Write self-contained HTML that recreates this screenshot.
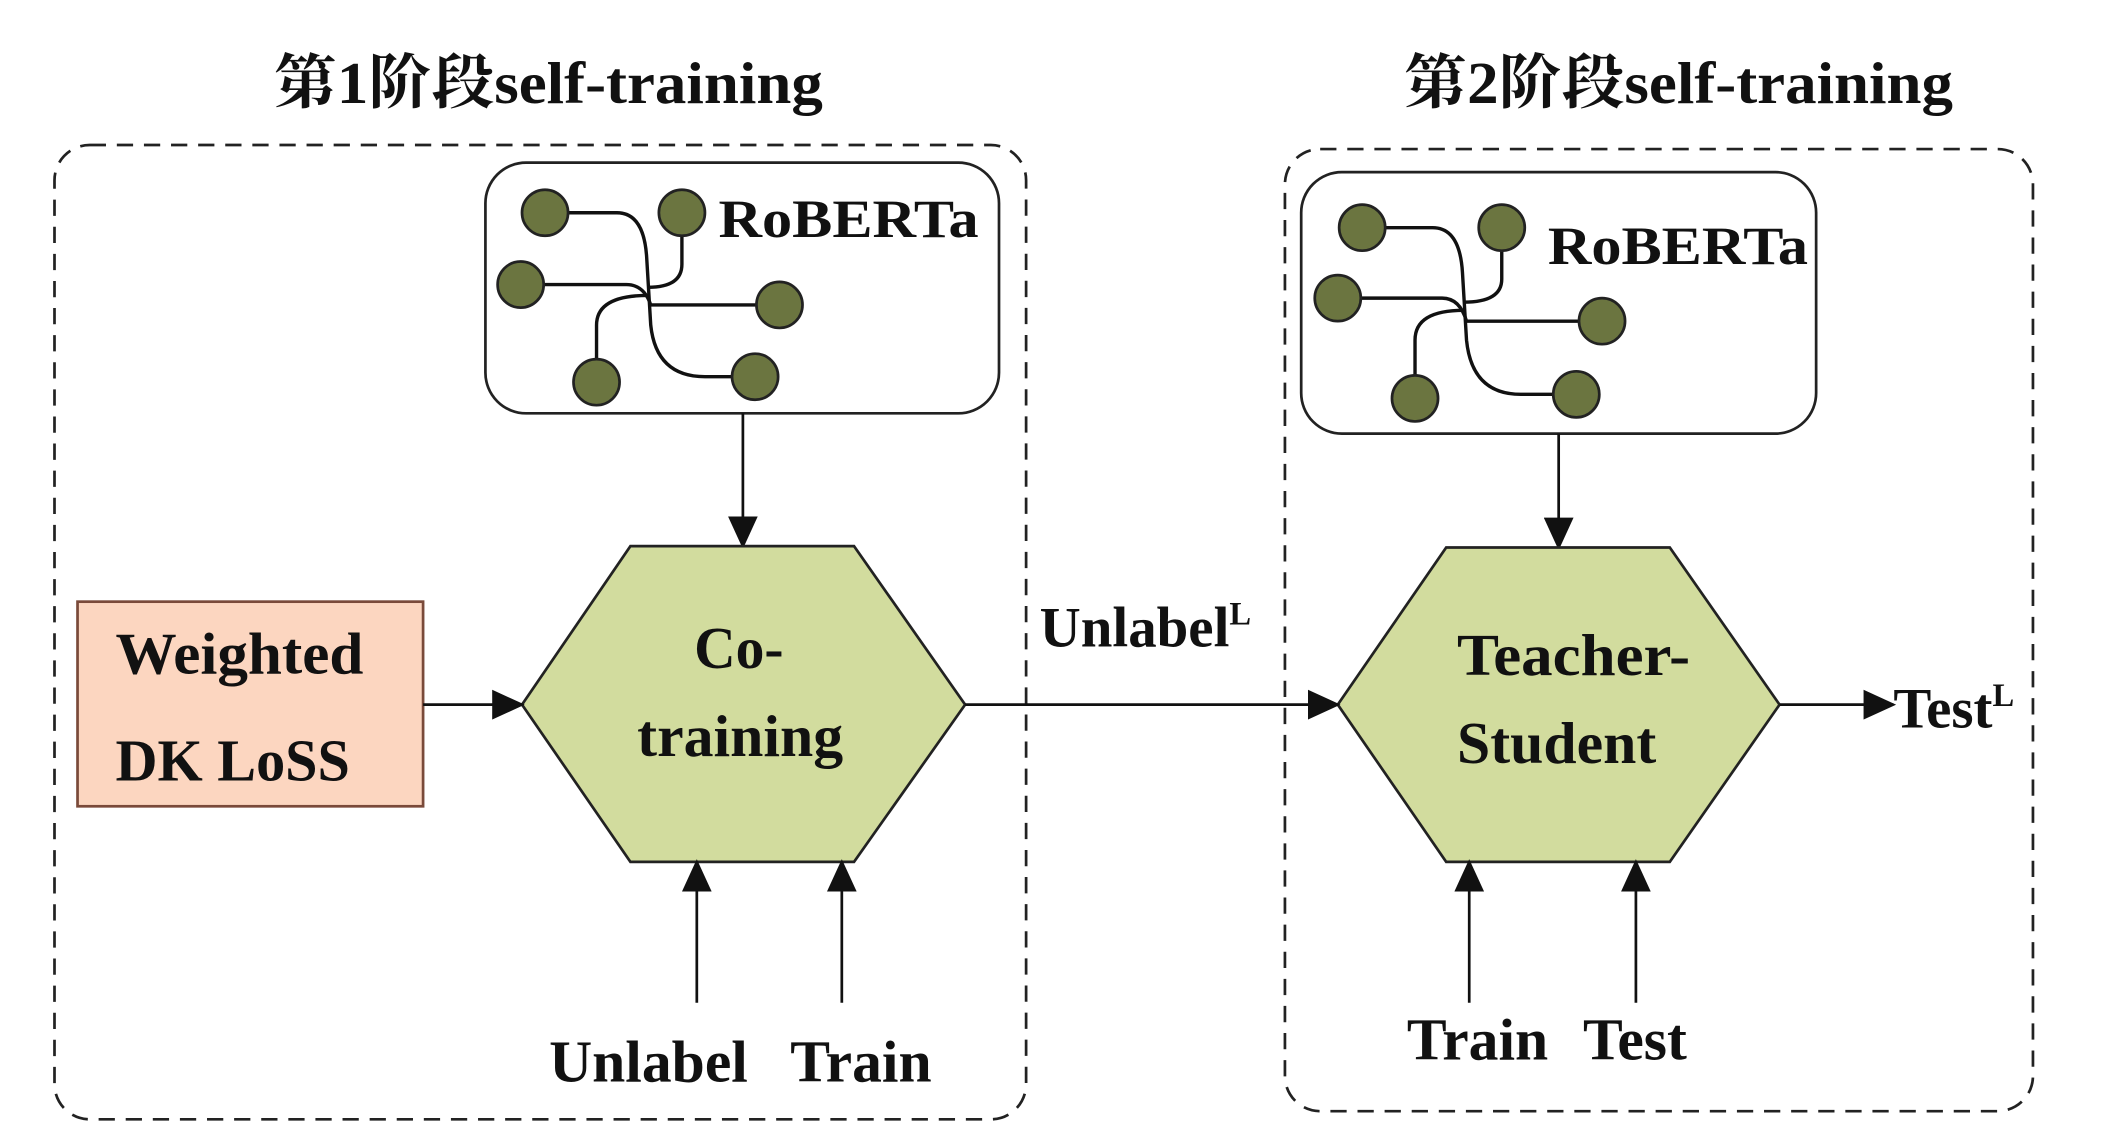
<!DOCTYPE html>
<html><head><meta charset="utf-8"><style>
html,body{margin:0;padding:0;background:#fff}
svg{display:block}
text{font-family:"Liberation Serif","Noto Serif CJK SC",serif;fill:#111}
</style></head><body>
<svg width="2101" height="1141" viewBox="0 0 1550 842" xmlns="http://www.w3.org/2000/svg">
<defs>
<marker id="b" markerWidth="24" markerHeight="22" refX="22" refY="11" orient="auto" markerUnits="userSpaceOnUse">
<path d="M0,0 L24,11 L0,22 z" fill="#111"/></marker>
</defs>
<text x="202" y="76" font-size="44" font-weight="bold" textLength="405" lengthAdjust="spacingAndGlyphs">第1阶段self-training</text>
<text x="1036" y="76" font-size="44" font-weight="bold" textLength="405" lengthAdjust="spacingAndGlyphs">第2阶段self-training</text>
<rect x="40" y="107" width="717" height="719" rx="26" fill="none" stroke="#222" stroke-width="2" stroke-dasharray="12,8"/>
<rect x="948" y="110" width="552" height="710" rx="26" fill="none" stroke="#222" stroke-width="2" stroke-dasharray="12,8"/>

<g>
<rect x="358" y="120" width="379" height="185" rx="30" fill="#fff" stroke="#222" stroke-width="2"/>
<g fill="none" stroke="#111" stroke-width="2.5">
<path d="M402,157 H455 Q475,157 477,190 L480,240 Q484,278 520,278 H557"/>
<path d="M503,157 V195 Q503,212 478,212"/>
<path d="M384,210 H462 Q475,210 480,225 H575"/>
<path d="M440,282 V240 Q440,218 478,218"/>
</g>
<g fill="#6b7540" stroke="#222" stroke-width="2">
<ellipse cx="402" cy="157" rx="17" ry="17"/><ellipse cx="503" cy="157" rx="17" ry="17"/>
<ellipse cx="384" cy="210" rx="17" ry="17"/><ellipse cx="575" cy="225" rx="17" ry="17"/>
<ellipse cx="440" cy="282" rx="17" ry="17"/><ellipse cx="557" cy="278" rx="17" ry="17"/>
</g>
<text x="530" y="175" font-size="40" font-weight="bold" textLength="192" lengthAdjust="spacingAndGlyphs">RoBERTa</text>
</g>
<g transform="translate(602,11)">
<rect x="358" y="116" width="380" height="193" rx="30" fill="#fff" stroke="#222" stroke-width="2"/>
<g fill="none" stroke="#111" stroke-width="2.5">
<path d="M402,157 H455 Q475,157 477,190 L480,240 Q484,280 520,280 H561"/>
<path d="M506,157 V195 Q506,212 478,212"/>
<path d="M385,209 H462 Q475,209 480,226 H580"/>
<path d="M442,283 V240 Q442,218 478,218"/>
</g>
<g fill="#6b7540" stroke="#222" stroke-width="2">
<ellipse cx="403" cy="157" rx="17" ry="17"/><ellipse cx="506" cy="157" rx="17" ry="17"/>
<ellipse cx="385" cy="209" rx="17" ry="17"/><ellipse cx="580" cy="226" rx="17" ry="17"/>
<ellipse cx="442" cy="283" rx="17" ry="17"/><ellipse cx="561" cy="280" rx="17" ry="17"/>
</g>
<text x="540" y="184" font-size="40" font-weight="bold" textLength="192" lengthAdjust="spacingAndGlyphs">RoBERTa</text>
</g>

<line x1="548" y1="305" x2="548" y2="403" stroke="#111" stroke-width="2" marker-end="url(#b)"/>
<line x1="1150" y1="320" x2="1150" y2="404" stroke="#111" stroke-width="2" marker-end="url(#b)"/>

<polygon points="385,520 465,403 630,403 712,520 630,636 465,636" fill="#d2dc9e" stroke="#222" stroke-width="2"/>
<text x="512" y="493" font-size="44" font-weight="bold" textLength="66" lengthAdjust="spacingAndGlyphs">Co-</text>
<text x="470" y="558" font-size="44" font-weight="bold" textLength="152" lengthAdjust="spacingAndGlyphs">training</text>

<polygon points="987,520 1067,404 1232,404 1313,520 1232,636 1067,636" fill="#d2dc9e" stroke="#222" stroke-width="2"/>
<text x="1075" y="498" font-size="44" font-weight="bold" textLength="172" lengthAdjust="spacingAndGlyphs">Teacher-</text>
<text x="1075" y="563" font-size="44" font-weight="bold" textLength="147" lengthAdjust="spacingAndGlyphs">Student</text>

<rect x="57" y="444" width="255" height="151" fill="#fcd6c0" stroke="#7a4a3a" stroke-width="2"/>
<text x="85" y="497" font-size="44" font-weight="bold" textLength="183" lengthAdjust="spacingAndGlyphs">Weighted</text>
<text x="85" y="576" font-size="44" font-weight="bold" textLength="173" lengthAdjust="spacingAndGlyphs">DK LoSS</text>

<line x1="312" y1="520" x2="385" y2="520" stroke="#111" stroke-width="2" marker-end="url(#b)"/>
<line x1="712" y1="520" x2="987" y2="520" stroke="#111" stroke-width="2" marker-end="url(#b)"/>
<line x1="1313" y1="520" x2="1397" y2="520" stroke="#111" stroke-width="2" marker-end="url(#b)"/>

<text x="767" y="477" font-size="42" font-weight="bold">Unlabel<tspan font-size="24" dy="-16">L</tspan></text>
<text x="1397" y="537" font-size="42" font-weight="bold">Test<tspan font-size="24" dy="-16">L</tspan></text>

<g stroke="#111" stroke-width="2">
<line x1="514" y1="740" x2="514" y2="636" marker-end="url(#b)"/>
<line x1="621" y1="740" x2="621" y2="636" marker-end="url(#b)"/>
<line x1="1084" y1="740" x2="1084" y2="636" marker-end="url(#b)"/>
<line x1="1207" y1="740" x2="1207" y2="636" marker-end="url(#b)"/>
</g>
<text x="405" y="798" font-size="44" font-weight="bold">Unlabel</text>
<text x="583" y="798" font-size="44" font-weight="bold">Train</text>
<text x="1038" y="782" font-size="44" font-weight="bold">Train</text>
<text x="1168" y="782" font-size="44" font-weight="bold">Test</text>
</svg>
</body></html>
